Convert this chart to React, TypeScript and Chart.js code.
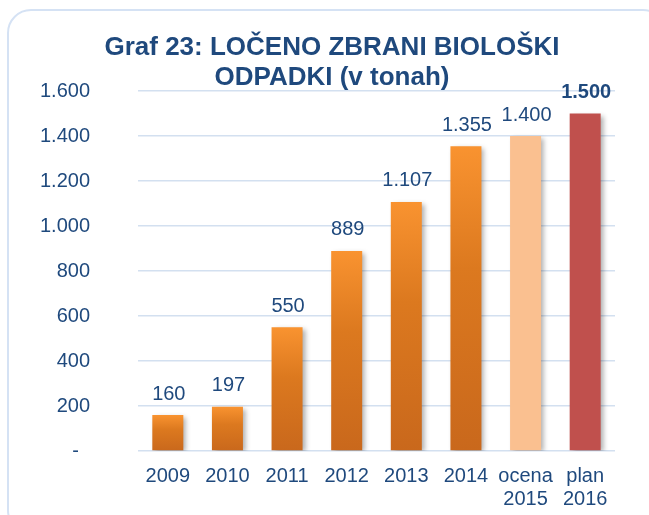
import React, { useEffect, useRef } from "react";
import { Chart, registerables } from "chart.js";

Chart.register(...registerables);

const categories: (string | string[])[] = ["2009", "2010", "2011", "2012", "2013", "2014", ["ocena", "2015"], ["plan", "2016"]];
const values: number[] = [160, 197, 550, 889, 1107, 1355, 1400, 1500];
const boldLabel: boolean[] = [false, false, false, false, false, false, false, true];
const titleLines: string[] = ["Graf 23: LOČENO ZBRANI BIOLOŠKI", "ODPADKI (v tonah)"];
const yMin = 0;
const yMax = 1600;
const yStep = 200;

const TEXT = "#1F497D";
const FONT = "'Liberation Sans', Arial, sans-serif";

const fmt = (v: number): string => {
  if (v === 0) return "-  ";
  return Math.round(v).toString().replace(/\B(?=(\d{3})+(?!\d))/g, ".");
};

const titlePlugin = {
  id: "customTitle",
  afterDraw(chart: any) {
    const ctx = chart.ctx;
    ctx.save();
    ctx.fillStyle = TEXT;
    ctx.textAlign = "center";
    ctx.textBaseline = "alphabetic";
    ctx.font = `bold 26px ${FONT}`;
    titleLines.forEach((line, i) => {
      ctx.fillText(line, 332, 55 + i * 30);
    });
    ctx.restore();
  },
};

const shadowAndLabels = {
  id: "shadowAndLabels",
  beforeDatasetsDraw(chart: any) {
    const ctx = chart.ctx;
    ctx.save();
    ctx.shadowColor = "rgba(0,0,0,0.32)";
    ctx.shadowBlur = 5;
    ctx.shadowOffsetX = 3;
    ctx.shadowOffsetY = 2;
  },
  afterDatasetsDraw(chart: any) {
    const ctx = chart.ctx;
    ctx.restore();
    const meta = chart.getDatasetMeta(0);
    ctx.save();
    ctx.fillStyle = TEXT;
    ctx.textAlign = "center";
    ctx.textBaseline = "middle";
    meta.data.forEach((el: any, i: number) => {
      ctx.font = `${boldLabel[i] ? "bold " : ""}20px ${FONT}`;
      ctx.fillText(fmt(values[i]), el.x + 1, el.y - 21);
    });
    ctx.restore();
  },
};

export default function App() {
  const ref = useRef<HTMLCanvasElement | null>(null);

  useEffect(() => {
    if (!ref.current) return;
    const chart = new Chart(ref.current, {
      type: "bar",
      data: {
        labels: categories,
        datasets: [
          {
            data: values,
            backgroundColor: (c: any) => {
              const i = c.dataIndex;
              if (i === 6) return "#FAC090";
              if (i === 7) return "#C0504D";
              const chart = c.chart;
              if (!chart.chartArea || !chart.scales.y) return "#E07B24";
              const top = chart.scales.y.getPixelForValue(values[i]);
              const bottom = chart.scales.y.getPixelForValue(0);
              const g = chart.ctx.createLinearGradient(0, top, 0, bottom);
              g.addColorStop(0, "#F99330");
              g.addColorStop(0.4, "#DC791F");
              g.addColorStop(1, "#C9681C");
              return g;
            },
            borderWidth: 0,
            categoryPercentage: 1,
            barPercentage: 0.52,
          },
        ],
      },
      options: {
        responsive: false,
        animation: false,
        devicePixelRatio: 1,
        layout: { padding: { left: 0, right: 34, top: 91, bottom: 0 } },
        plugins: {
          legend: { display: false },
          tooltip: { enabled: false },
          title: { display: false },
        },
        scales: {
          x: {
            grid: { display: false, drawTicks: false },
            border: { display: false },
            ticks: {
              color: TEXT,
              font: { family: FONT, size: 20, lineHeight: 1.15 },
              padding: 14,
              maxRotation: 0,
              autoSkip: false,
            },
            afterFit: (s: any) => {
              s.height = 64;
            },
          },
          y: {
            min: yMin,
            max: yMax,
            grid: { color: "#D3E0F0", lineWidth: 1.5, drawTicks: false },
            border: { display: false },
            ticks: {
              stepSize: yStep,
              color: TEXT,
              font: { family: FONT, size: 20 },
              padding: 48,
              callback: (v: any) => fmt(Number(v)),
            },
            afterFit: (s: any) => {
              s.width = 138;
            },
          },
        },
      },
      plugins: [shadowAndLabels, titlePlugin],
    });
    return () => chart.destroy();
  }, []);

  return (
    <div style={{ position: "absolute", left: 0, top: 0, width: 649, height: 515, overflow: "hidden", background: "#FFFFFF" }}>
      <div
        style={{
          position: "absolute",
          left: 7,
          top: 9,
          width: 660,
          height: 525,
          border: "2px solid #D5E2F4",
          borderRadius: 24,
          boxSizing: "border-box",
        }}
      />
      <canvas ref={ref} width={649} height={515} style={{ position: "absolute", left: 0, top: 0, width: 649, height: 515 }} />
    </div>
  );
}
